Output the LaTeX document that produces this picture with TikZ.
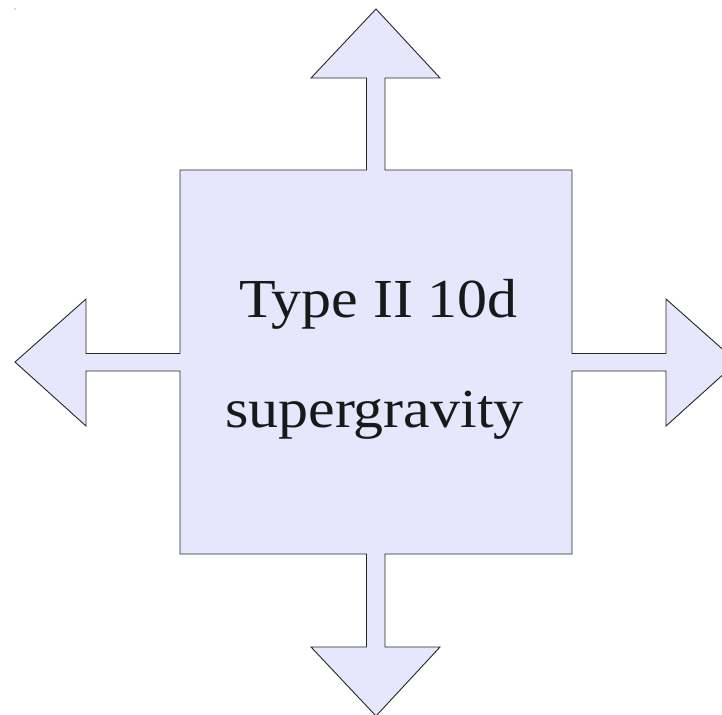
\documentclass[tikz,border=0pt]{standalone}
\usepackage{fontspec}
\setmainfont[FakeStretch=1.09]{Liberation Serif}
\definecolor{lav}{RGB}{230,230,252}
\begin{document}
\begin{tikzpicture}[x=1pt,y=-1pt,
  shapeline/.style={draw=black!85,line width=0.9pt,fill=lav,line join=miter},
  lbl/.style={anchor=base,inner sep=0pt,font=\fontsize{55}{60}\selectfont,text=black!90}]
\useasboundingbox (0,0) rectangle (722,714);
\begin{scope}
\clip (0,0) rectangle (722,714);
\draw[shapeline] (376,9) -- (440,78) -- (385,78) -- (385,170) -- (572,170) -- (572,353.5)
  -- (666,353.5) -- (666,299) -- (737,362) -- (666,426) -- (666,371) -- (572,371)
  -- (572,554) -- (385,554) -- (385,647) -- (440,647) -- (376,716) -- (311,647)
  -- (366.5,647) -- (366.5,554) -- (180,554) -- (180,371) -- (86,371) -- (86,426)
  -- (15,362) -- (86,299) -- (86,353.5) -- (180,353.5) -- (180,170) -- (366.5,170)
  -- (366.5,78) -- (311,78) -- cycle;
\end{scope}
\fill[black!70] (15,9) circle (0.6);
\node[lbl] (l1) at (378.5,317) {Type II 10d};
\node[lbl] (l2) at (374.5,427) {supergravity};
\end{tikzpicture}
\end{document}
